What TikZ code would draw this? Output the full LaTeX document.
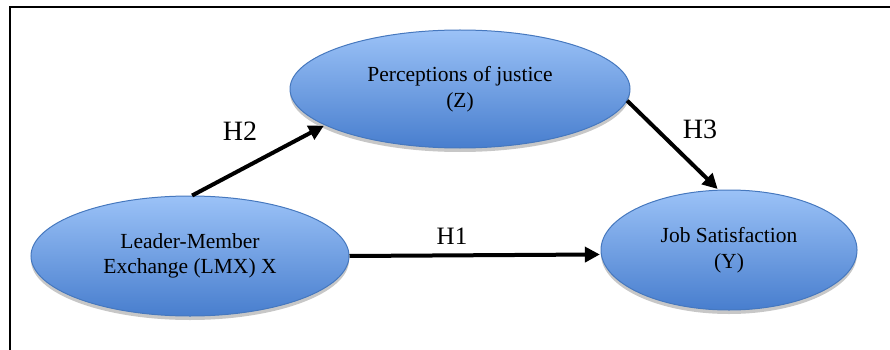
\documentclass[tikz,border=0pt]{standalone}
\usepackage{fontspec}
\setmainfont{Liberation Serif}
\usetikzlibrary{shapes.geometric,shadows,arrows.meta}
\definecolor{ellTop}{RGB}{155,194,247}
\definecolor{ellBot}{RGB}{72,126,206}
\definecolor{ellEdge}{RGB}{70,120,190}
\begin{document}
\begin{tikzpicture}[x=1pt,y=-1pt,
  var/.style={ellipse, draw=ellEdge, line width=1pt, top color=ellTop, bottom color=ellBot,
    inner sep=0pt, align=center, font=\fontsize{21.5}{25.5}\selectfont,
    drop shadow={shadow xshift=0pt, shadow yshift=-4pt, opacity=0.22, fill=black}},
  hyp/.style={line width=4pt, -{Triangle[length=15pt,width=15pt]}, shorten >=1pt},
  hlab/.style={font=\fontsize{25}{28}\selectfont, inner sep=0pt}]
\useasboundingbox (0,0) rectangle (890,350);
\draw[line width=1.6pt] (10,350) -- (10,7) -- (890,7);
\node[var, minimum width=318pt, minimum height=120pt] (lmx) at (190,256) {Leader-Member\\Exchange (LMX) X};
\node[var, minimum width=340pt, minimum height=118pt] (pj) at (460,89) {Perceptions of justice\\(Z)};
\node[var, minimum width=256pt, minimum height=120pt] (job) at (729,250) {Job Satisfaction\\(Y)};
\draw[hyp] (lmx.88) -- (pj.195);
\draw[hyp] (pj.-4) -- (job.100);
\draw[hyp] (lmx.east) -- (job.182);
\node[hlab, font=\fontsize{28}{30}\selectfont] (h2) at (240,131) {H2};
\node[hlab, font=\fontsize{28}{30}\selectfont] (h3) at (700,129) {H3};
\node[hlab] (h1) at (452,236) {H1};
\end{tikzpicture}
\end{document}
